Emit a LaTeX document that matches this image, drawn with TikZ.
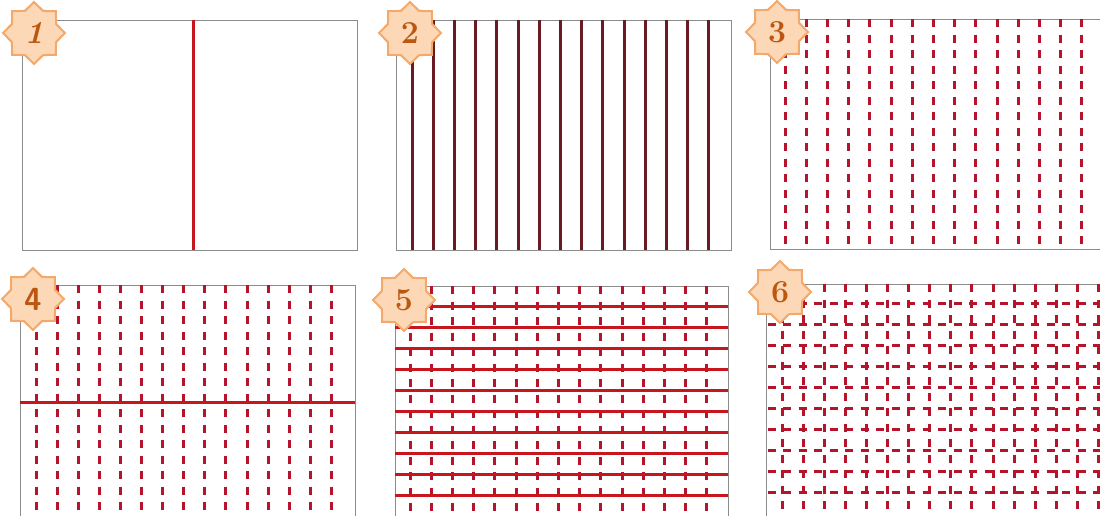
\documentclass[tikz,border=0pt]{standalone}
\usetikzlibrary{shapes.geometric}
\definecolor{frame}{HTML}{8C8C8C}
\definecolor{redline}{HTML}{C8161E}
\definecolor{darkline}{HTML}{6A1A22}
\definecolor{dashred}{HTML}{B5142A}
\definecolor{badgefill}{HTML}{FCD8B6}
\definecolor{badgedraw}{HTML}{F4A96C}
\definecolor{badgetext}{HTML}{BC5712}
\tikzset{
  panel/.style={draw=frame, line width=1pt},
  solidred/.style={draw=redline, line width=3pt},
  darkrule/.style={draw=darkline, line width=3pt},
  dashrule/.style={draw=dashred, line width=3pt, dash pattern=on 8pt off 7.5pt},
  badge/.style={shape=star, star points=8, star point ratio=1.3, minimum size=62pt,
    inner sep=0pt, fill=badgefill, draw=badgedraw, line width=2pt, text=badgetext,
    font=\fontsize{32}{34}\selectfont\bfseries}
}
\begin{document}
\begin{tikzpicture}[x=1pt,y=-1pt]
\useasboundingbox (0,0) rectangle (1100,515);
\fill[white] (0,0) rectangle (1100,515);
\clip (0,0) rectangle (1100,515);
% Panel 1
\draw[panel] (22,20) rectangle (357,250);
\draw[solidred] (193,20) -- (193,250);
% Panel 2
\draw[panel] (396,20) rectangle (731,250);
\foreach \k in {0,...,14} \draw[darkrule] ({412+21.2*\k},20) -- ({412+21.2*\k},250);
% Panel 3
\draw[panel] (770,19) rectangle (1110,249);
\foreach \k in {0,...,14} \draw[dashrule] ({785+21.2*\k},19) -- ({785+21.2*\k},249);
% Panel 4
\draw[panel] (20,285) rectangle (355,525);
\foreach \k in {0,...,14} \draw[dashrule] ({36+21.1*\k},285) -- ({36+21.1*\k},520);
\draw[solidred] (20,402) -- (355,402);
% Panel 5
\draw[panel] (395,286) rectangle (728,525);
\foreach \k in {0,...,14} \draw[dashrule] ({410+21.2*\k},286) -- ({410+21.2*\k},520);
\foreach \k in {0,...,9} \draw[solidred] (395,{306+21.1*\k}) -- (728,{306+21.1*\k});
% Panel 6
\draw[panel] (766,284) rectangle (1110,525);
\foreach \k in {0,...,15} \draw[dashrule] ({782+21.1*\k},284) -- ({782+21.1*\k},520);
\foreach \k in {0,...,9} \draw[dashrule, dash phase=14pt] (766,{303+21.1*\k}) -- (1110,{303+21.1*\k});
% Badges
\node[badge] (b1) at (34,33) {\itshape 1};
\node[badge] (b2) at (410,33) {2};
\node[badge] (b3) at (777,32) {3};
\node[badge] (b4) at (33,299) {\sffamily 4};
\node[badge] (b5) at (404,300) {5};
\node[badge] (b6) at (780,292) {6};
\end{tikzpicture}
\end{document}
